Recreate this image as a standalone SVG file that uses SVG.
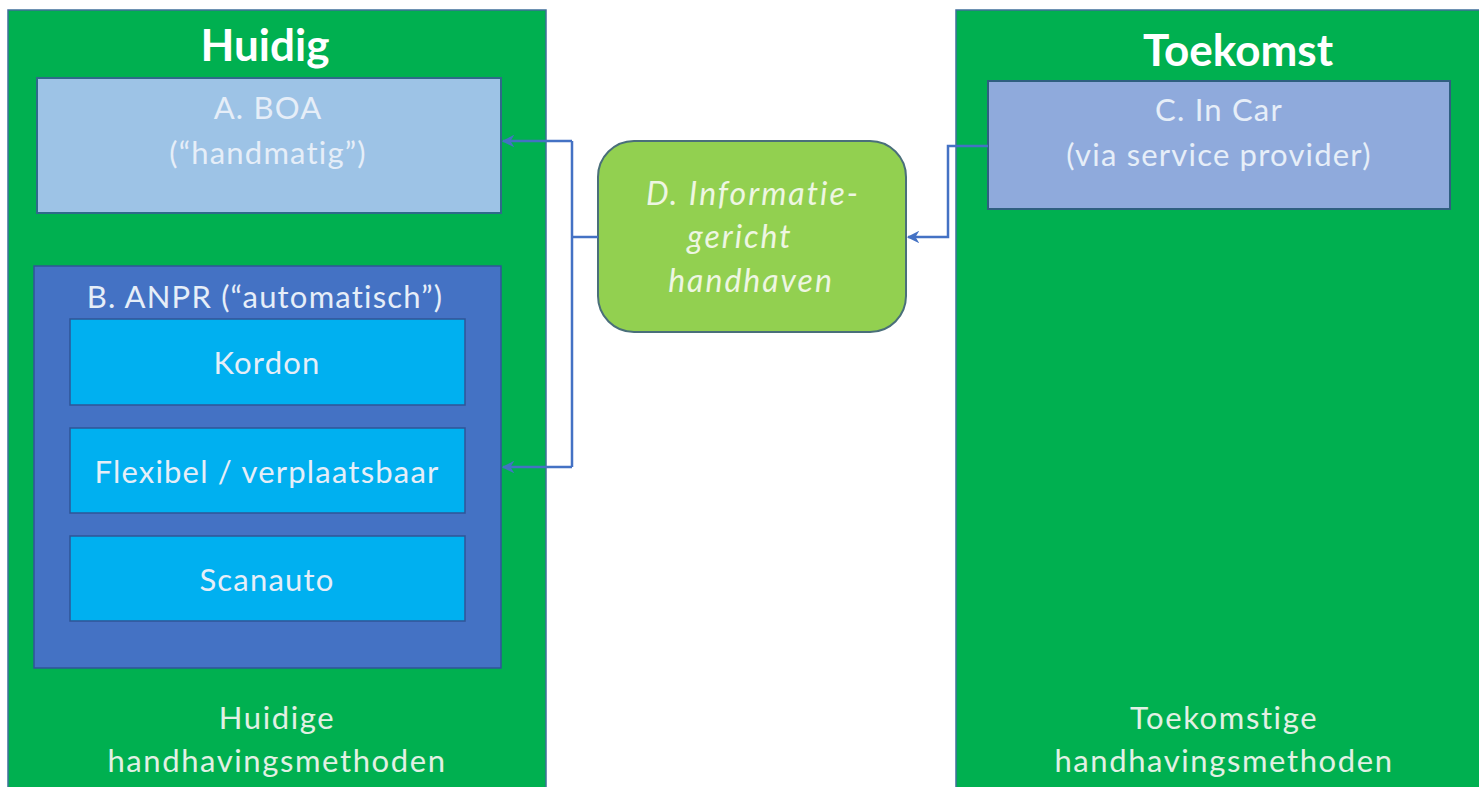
<svg xmlns="http://www.w3.org/2000/svg" width="1479" height="787" viewBox="0 0 1479 787">
<defs>
<style>
.panel{fill:#00B050;stroke:#3F6F9A;stroke-width:1.5}
.title{font-family:Lato,"Open Sans",sans-serif;font-weight:bold;font-size:44px;fill:#FFFFFF;text-anchor:middle}
.lbl{font-family:Lato,"Open Sans",sans-serif;font-size:31px;letter-spacing:1.6px;fill:#E2F0E4;text-anchor:middle}
.lbl2{font-family:Lato,"Open Sans",sans-serif;font-size:31px;letter-spacing:1.2px;fill:#E6EEF8;text-anchor:middle}
.ital{font-family:Lato,"Open Sans",sans-serif;font-style:italic;font-size:32px;letter-spacing:2px;fill:#EEF6E2;text-anchor:middle}
.sub{fill:#00B0F0;stroke:#2F5597;stroke-width:1.5}
.conn{fill:none;stroke:#4472C4;stroke-width:2.5}
</style>
<marker id="arr" viewBox="0 0 10 10" refX="9" refY="5" markerWidth="5" markerHeight="5" orient="auto-start-reverse">
<path d="M0,0 L10,5 L0,10 L3,5 z" fill="#4472C4"/>
</marker>
</defs>
<rect width="1479" height="787" fill="#FFFFFF"/>
<g id="panel-huidig">
<rect class="panel" x="8" y="10" width="538" height="790"/>
<text class="title" x="265" y="61">Huidig</text>
<text class="lbl" x="277" y="729">Huidige</text>
<text class="lbl" x="277" y="772">handhavingsmethoden</text>
</g>
<g id="panel-toekomst">
<rect class="panel" x="956" y="10" width="540" height="790"/>
<text class="title" x="1238" y="66">Toekomst</text>
<text class="lbl" x="1224" y="729">Toekomstige</text>
<text class="lbl" x="1224" y="772">handhavingsmethoden</text>
</g>
<g id="node-a">
<rect x="37" y="78" width="464" height="135" fill="#9DC3E6" stroke="#2F6A8A" stroke-width="2"/>
<text class="lbl2" x="268" y="119">A. BOA</text>
<text class="lbl2" x="268" y="164">(“handmatig”)</text>
</g>
<g id="node-b">
<rect x="34" y="266" width="467" height="402" fill="#4472C4" stroke="#2F5597" stroke-width="1.5"/>
<text class="lbl2" x="265" y="308">B. ANPR (“automatisch”)</text>
</g>
<g id="node-kordon">
<rect class="sub" x="70" y="319" width="395" height="86"/>
<text class="lbl2" x="267" y="374">Kordon</text>
</g>
<g id="node-flexibel">
<rect class="sub" x="70" y="428" width="395" height="85"/>
<text class="lbl2" x="267" y="483">Flexibel / verplaatsbaar</text>
</g>
<g id="node-scanauto">
<rect class="sub" x="70" y="536" width="395" height="85"/>
<text class="lbl2" x="267" y="591">Scanauto</text>
</g>
<g id="node-c">
<rect x="988" y="81" width="462" height="128" fill="#8FAADC" stroke="#2F5F80" stroke-width="2"/>
<text class="lbl2" x="1219" y="121">C. In Car</text>
<text class="lbl2" x="1219" y="166">(via service provider)</text>
</g>
<g id="node-d">
<rect x="598" y="141" width="308" height="191" rx="36" ry="36" fill="#92D050" stroke="#4A6F7A" stroke-width="2"/>
<text class="ital" x="753" y="205">D. Informatie-</text>
<text class="ital" x="740" y="248">gericht</text>
<text class="ital" x="751" y="292">handhaven</text>
</g>
<g id="connectors">
<path class="conn" d="M598,237 H572"/>
<path class="conn" d="M572,141 V467"/>
<path class="conn" d="M572,141 H503" marker-end="url(#arr)"/>
<path class="conn" d="M572,467 H503" marker-end="url(#arr)"/>
<path class="conn" d="M988,146 H948 V237 H908" marker-end="url(#arr)"/>
</g>
</svg>
